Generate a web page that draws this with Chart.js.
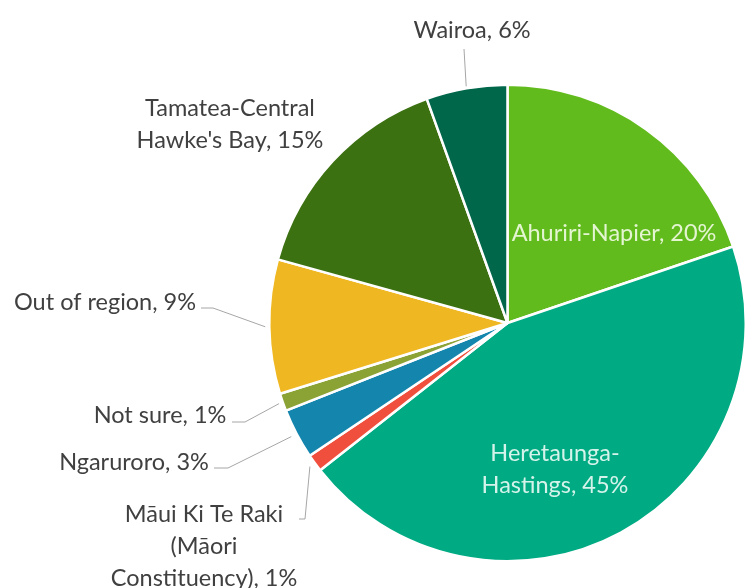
<!DOCTYPE html>
<html>
<head>
<meta charset="utf-8">
<script src="https://cdn.jsdelivr.net/npm/chart.js@4"></script>
<style>
  html, body { margin: 0; padding: 0; background: #ffffff; }
  #wrap { width: 747px; height: 588px; position: relative; }
</style>
</head>
<body>
<div id="wrap"><canvas id="pie" width="747" height="588"></canvas></div>
<script>
const regions = [
    'Ahuriri-Napier',
    'Heretaunga-Hastings',
    'Māui Ki Te Raki (Māori Constituency)',
    'Ngaruroro',
    'Not sure',
    'Out of region',
    "Tamatea-Central Hawke's Bay",
    'Wairoa'
]
const shares = [19.8, 44.6, 1.2, 3.4, 1.2, 9.1, 15.2, 5.5]

// label text as wrapped in the picture
const labelLines = [
    ['Ahuriri-Napier, 20%'],
    ['Heretaunga-', 'Hastings, 45%'],
    ['Māui Ki Te Raki', '(Māori', 'Constituency), 1%'],
    ['Ngaruroro, 3%'],
    ['Not sure, 1%'],
    ['Out of region, 9%'],
    ['Tamatea-Central', "Hawke's Bay, 15%"],
    ['Wairoa, 6%']
]

const sliceColors = ['#62bb1c', '#00ab83', '#ef4f3c', '#1486ae', '#8ba235', '#efb823', '#3c7112', '#00674b']

// where each label sits, and how its leader line bends (no leader = none drawn)
const labelLayout = [
    { x: 614, y: 233, color: '#e4f5d2' },
    { x: 555, y: 453, color: '#d4f3ea' },
    { x: 204, y: 514, color: '#404040', leader: { from: [299, 519], knee: [305, 519], reach: 6 } },
    { x: 134, y: 462, color: '#404040', leader: { from: [214, 468], knee: [228, 468], reach: 6 } },
    { x: 160, y: 415, color: '#404040', leader: { from: [232, 422], knee: [245, 422], reach: 4 } },
    { x: 105, y: 302, color: '#404040', leader: { from: [201, 308], knee: [213, 308], reach: 4 } },
    { x: 230, y: 108, color: '#404040' },
    { x: 472, y: 30, color: '#404040', leader: { from: [464, 49], knee: [464, 49], reach: 2 } }
]

const labelFont = '23.5px Lato'
const lineGap = 32

const pieLabels = {
    id: 'pieLabels',
    afterDatasetsDraw(chart) {
        const ctx = chart.ctx
        const arcs = chart.getDatasetMeta(0).data
        ctx.save()
        ctx.font = labelFont
        ctx.textAlign = 'center'
        ctx.textBaseline = 'middle'
        arcs.forEach((arc, i) => {
            const lay = labelLayout[i]
            if (lay.leader) {
                // point just outside the rim, at the middle of the slice
                const a = (arc.startAngle + arc.endAngle) / 2
                const r = arc.outerRadius + lay.leader.reach
                const ex = arc.x + Math.cos(a) * r
                const ey = arc.y + Math.sin(a) * r
                ctx.strokeStyle = '#a6a6a6'
                ctx.lineWidth = 1
                ctx.beginPath()
                ctx.moveTo(lay.leader.from[0], lay.leader.from[1])
                ctx.lineTo(lay.leader.knee[0], lay.leader.knee[1])
                ctx.lineTo(ex, ey)
                ctx.stroke()
            }
            ctx.fillStyle = lay.color
            labelLines[i].forEach((line, j) => {
                ctx.fillText(line, lay.x, lay.y + j * lineGap)
            })
        })
        ctx.restore()
    }
}

new Chart(document.getElementById('pie').getContext('2d'), {
    type: 'pie',
    data: {
        labels: regions,
        datasets: [{
            data: shares,
            backgroundColor: sliceColors,
            borderColor: '#ffffff',
            borderWidth: 2.5
        }]
    },
    options: {
        responsive: false,
        animation: false,
        layout: {
            padding: { left: 268, right: -3, top: 82, bottom: 24 }
        },
        plugins: {
            legend: { display: false },
            tooltip: { enabled: false }
        }
    },
    plugins: [pieLabels]
})
</script>
</body>
</html>
